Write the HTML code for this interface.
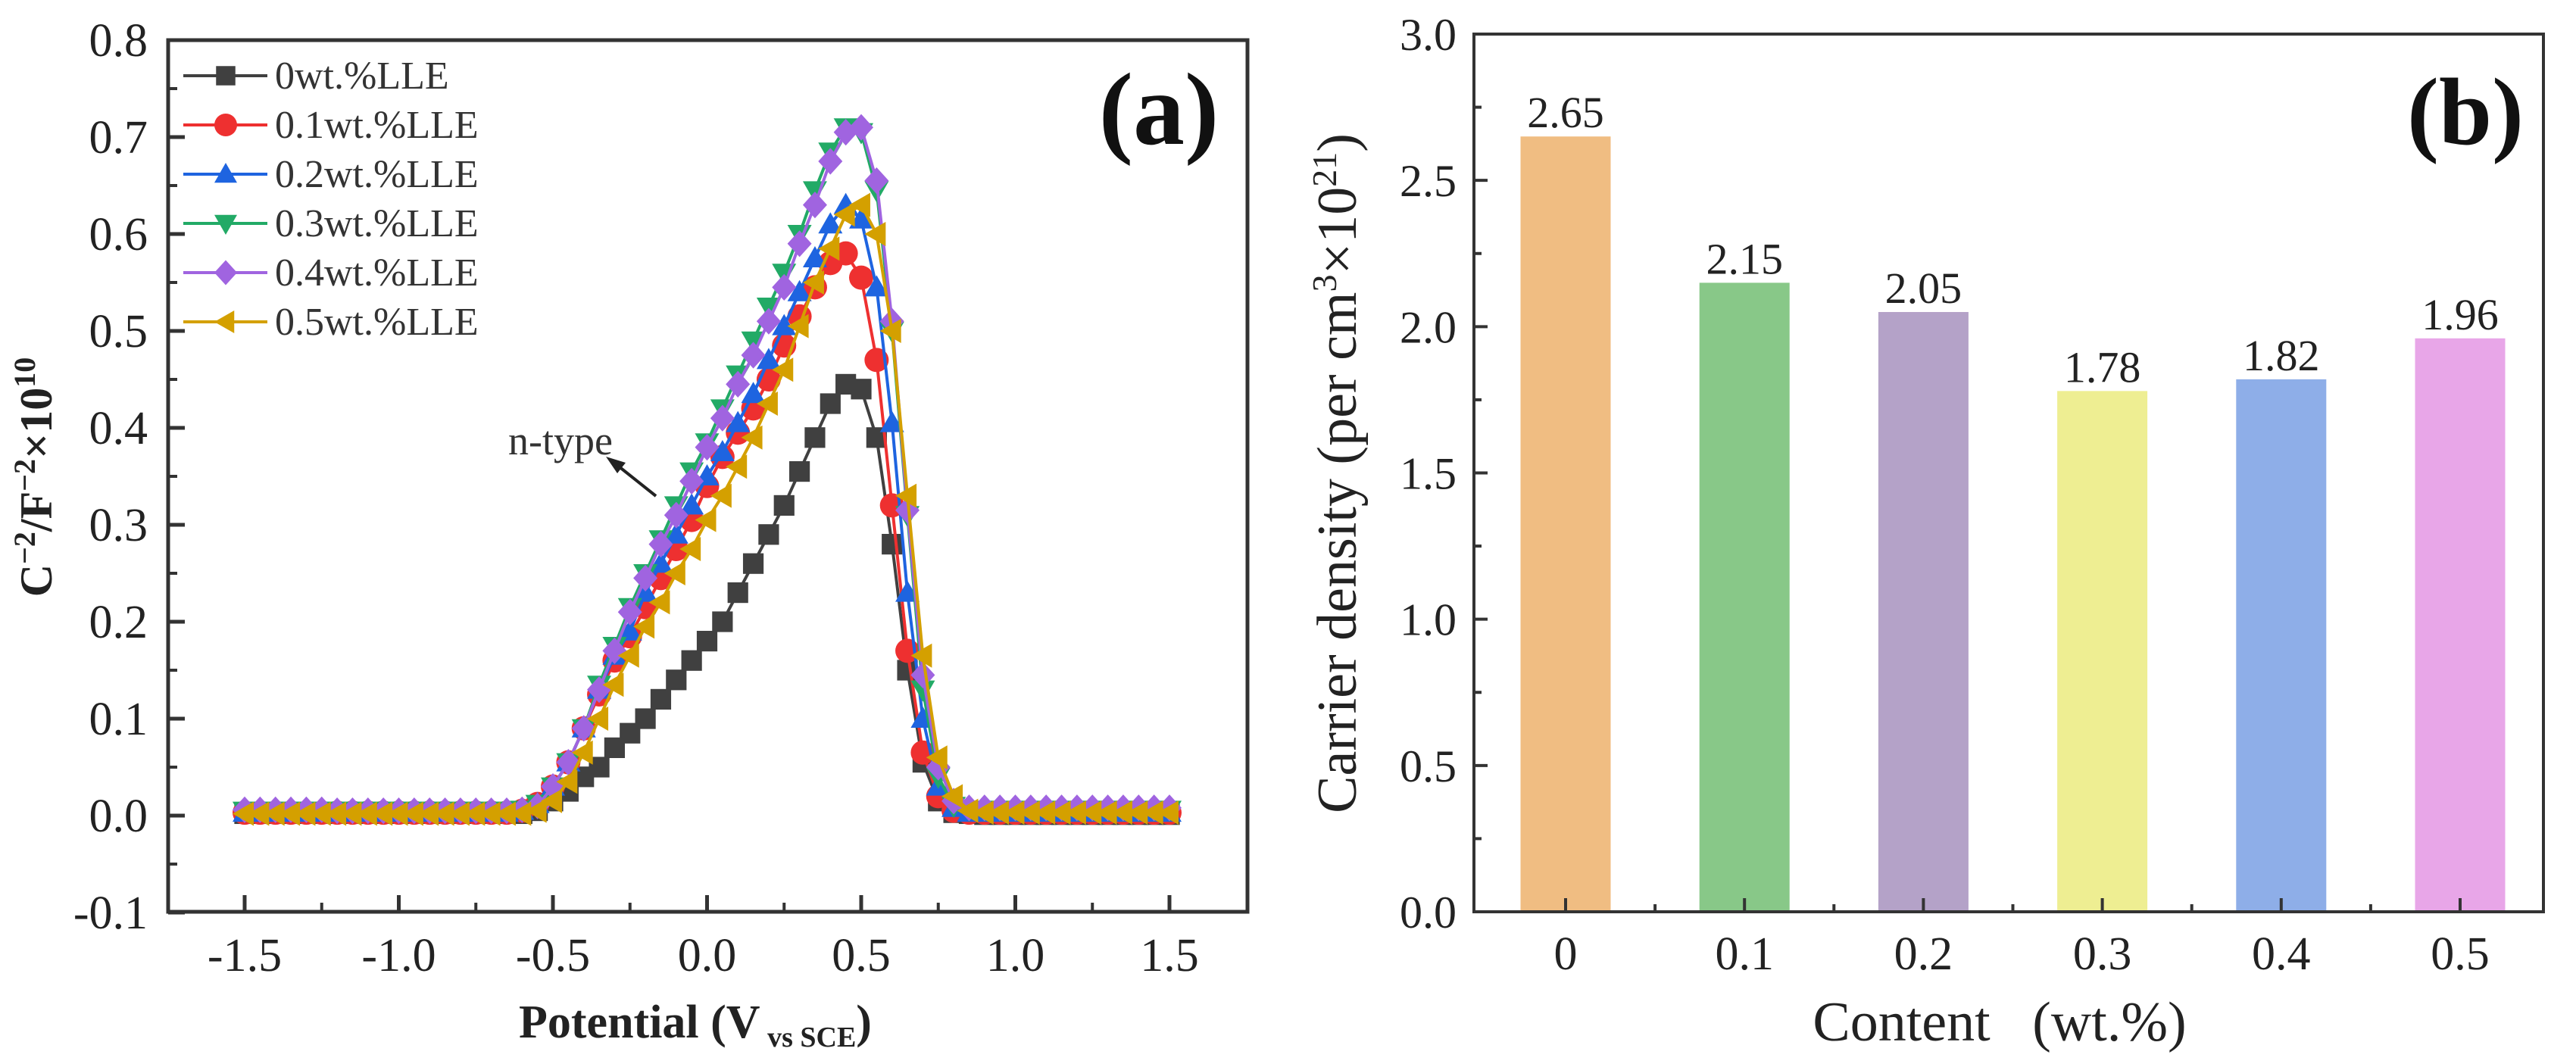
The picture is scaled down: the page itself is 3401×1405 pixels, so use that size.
<!DOCTYPE html>
<html><head><meta charset="utf-8"><style>
html,body{margin:0;padding:0;background:#fff;}
svg{display:block;font-family:"Liberation Serif",serif;}
</style></head><body>
<svg id="chart" width="3401" height="1405" viewBox="0 0 3401 1405" xmlns="http://www.w3.org/2000/svg">
<rect width="3401" height="1405" fill="#fff"/>
<g id="pa"></g>
<g id="pb"></g>
</svg>
<script>
const potentials = [-1.5,-1.45,-1.4,-1.35,-1.3,-1.25,-1.2,-1.15,-1.1,-1.05,-1.0,-0.95,-0.9,-0.85,-0.8,-0.75,-0.7,-0.65,-0.6,-0.55,-0.5,-0.45,-0.4,-0.35,-0.3,-0.25,-0.2,-0.15,-0.1,-0.05,0,0.05,0.1,0.15,0.2,0.25,0.3,0.35,0.4,0.45,0.5,0.55,0.6,0.65,0.7,0.75,0.8,0.85,0.9,0.95,1.0,1.05,1.1,1.15,1.2,1.25,1.3,1.35,1.4,1.45,1.5];
const s0 = [0.002,0.002,0.002,0.002,0.002,0.002,0.002,0.002,0.002,0.002,0.002,0.002,0.002,0.002,0.002,0.002,0.002,0.002,0.002,0.005,0.015,0.025,0.04,0.05,0.07,0.085,0.1,0.12,0.14,0.16,0.18,0.2,0.23,0.26,0.29,0.32,0.355,0.39,0.425,0.445,0.44,0.39,0.28,0.15,0.055,0.015,0.003,0.002,0.001,0.001,0.001,0.001,0.001,0.001,0.001,0.001,0.001,0.001,0.001,0.001,0.001];
const s1 = [0.003,0.003,0.003,0.003,0.003,0.003,0.003,0.003,0.003,0.003,0.003,0.003,0.003,0.003,0.003,0.003,0.003,0.003,0.005,0.012,0.03,0.055,0.09,0.125,0.16,0.185,0.215,0.245,0.275,0.305,0.34,0.37,0.395,0.42,0.45,0.485,0.515,0.545,0.57,0.58,0.555,0.47,0.32,0.17,0.065,0.02,0.005,0.003,0.003,0.003,0.003,0.003,0.003,0.003,0.003,0.003,0.003,0.003,0.003,0.003,0.003];
const s2 = [0.003,0.003,0.003,0.003,0.003,0.003,0.003,0.003,0.003,0.003,0.003,0.003,0.003,0.003,0.003,0.003,0.003,0.003,0.005,0.012,0.03,0.055,0.09,0.13,0.165,0.19,0.23,0.26,0.29,0.32,0.35,0.375,0.405,0.435,0.47,0.505,0.54,0.575,0.61,0.63,0.615,0.545,0.405,0.23,0.1,0.03,0.008,0.003,0.003,0.003,0.003,0.003,0.003,0.003,0.003,0.003,0.003,0.003,0.003,0.003,0.003];
const s3 = [0.005,0.005,0.005,0.005,0.005,0.005,0.005,0.005,0.005,0.005,0.005,0.005,0.005,0.005,0.005,0.005,0.005,0.005,0.006,0.012,0.03,0.055,0.09,0.135,0.175,0.215,0.25,0.285,0.32,0.355,0.385,0.42,0.455,0.49,0.525,0.56,0.6,0.645,0.685,0.71,0.705,0.645,0.5,0.31,0.13,0.04,0.01,0.006,0.006,0.006,0.006,0.006,0.006,0.006,0.006,0.006,0.006,0.006,0.006,0.006,0.006];
const s4 = [0.006,0.006,0.006,0.006,0.006,0.006,0.005,0.005,0.005,0.005,0.005,0.005,0.005,0.005,0.005,0.005,0.005,0.005,0.006,0.01,0.03,0.055,0.09,0.13,0.17,0.21,0.245,0.28,0.31,0.345,0.38,0.41,0.445,0.475,0.51,0.545,0.59,0.63,0.675,0.705,0.71,0.655,0.51,0.315,0.145,0.05,0.015,0.008,0.008,0.008,0.008,0.008,0.008,0.008,0.008,0.008,0.008,0.008,0.008,0.008,0.008];
const s5 = [0.002,0.002,0.002,0.002,0.002,0.002,0.002,0.002,0.002,0.002,0.002,0.002,0.002,0.002,0.002,0.002,0.002,0.002,0.002,0.005,0.015,0.035,0.065,0.1,0.135,0.165,0.195,0.22,0.25,0.275,0.305,0.33,0.36,0.39,0.425,0.46,0.505,0.55,0.585,0.62,0.63,0.6,0.5,0.33,0.165,0.06,0.02,0.005,0.003,0.003,0.003,0.003,0.003,0.003,0.003,0.003,0.003,0.003,0.003,0.003,0.003];
const seriesNames = ["0wt.%LLE","0.1wt.%LLE","0.2wt.%LLE","0.3wt.%LLE","0.4wt.%LLE","0.5wt.%LLE"];
const seriesColors = ["#404040","#ee3030","#1e64e0","#22aa66","#a064e0","#d4a000"];
const seriesMarkers = ["square","circle","triangle","tridown","diamond","triLeft"];
const xTicksA = [-1.5,-1.0,-0.5,0.0,0.5,1.0,1.5];
const yTicksA = [-0.1,0.0,0.1,0.2,0.3,0.4,0.5,0.6,0.7,0.8];

const categories = ["0","0.1","0.2","0.3","0.4","0.5"];
const barValues = [2.65,2.15,2.05,1.78,1.82,1.96];
const barColors = ["#f0bd82","#88c888","#b4a2c8","#eeee92","#8eaee8","#e8a6e8"];
const yTicksB = [0.0,0.5,1.0,1.5,2.0,2.5,3.0];

const NS="http://www.w3.org/2000/svg";
function mk(parent,tag,attrs,text){const e=document.createElementNS(NS,tag);for(const k in attrs)e.setAttribute(k,attrs[k]);if(text!==undefined)e.textContent=text;parent.appendChild(e);return e;}

// ---- Panel A ----
const pa=document.getElementById('pa');
const AL=222,AR=1647,AT=53,AB=1204;
const xA=v=>933.5+v*407;
const yA=v=>1077-v*1280;
let e;
e=mk(pa,'rect',{x:AL,y:AT,width:AR-AL,height:AB-AT,fill:'none',stroke:'#333','stroke-width':5});


xTicksA.forEach(t=>{
  e=mk(pa,'line',{x1:xA(t),x2:xA(t),y1:AB,y2:AB-22,stroke:'#333','stroke-width':5});
  
  
  if(t<1.5){e=mk(pa,'line',{x1:xA(t+0.25),x2:xA(t+0.25),y1:AB,y2:AB-12,stroke:'#333','stroke-width':4});
  
  }
  e=mk(pa,'text',{x:xA(t),y:1282,'text-anchor':'middle','font-size':62,fill:'#222'},t.toFixed(1));
  
  
});
yTicksA.forEach(t=>{
  e=mk(pa,'line',{x1:AL,x2:AL+22,y1:yA(t),y2:yA(t),stroke:'#333','stroke-width':5});
  
  
  if(t<0.8){e=mk(pa,'line',{x1:AL,x2:AL+12,y1:yA(t+0.05),y2:yA(t+0.05),stroke:'#333','stroke-width':4});
  
  }
  e=mk(pa,'text',{x:195,y:yA(t)+21,'text-anchor':'end','font-size':62,fill:'#222'},t.toFixed(1));
  
  
});
function marker(g,type,cx,cy,r,color){
  let m;
  if(type==='square') m=mk(g,'rect',{x:cx-r*0.85,y:cy-r*0.85,width:r*1.7,height:r*1.7,fill:color});
  else if(type==='circle') m=mk(g,'circle',{cx:cx,cy:cy,r:r,fill:color});
  else if(type==='triangle') m=mk(g,'polygon',{points:`${cx},${cy-r} ${cx-r},${cy+r*0.75} ${cx+r},${cy+r*0.75}`,fill:color});
  else if(type==='tridown') m=mk(g,'polygon',{points:`${cx},${cy+r} ${cx-r},${cy-r*0.75} ${cx+r},${cy-r*0.75}`,fill:color});
  else if(type==='diamond') m=mk(g,'polygon',{points:`${cx},${cy-r*1.1} ${cx+r},${cy} ${cx},${cy+r*1.1} ${cx-r},${cy}`,fill:color});
  else m=mk(g,'polygon',{points:`${cx-r},${cy} ${cx+r*0.75},${cy-r} ${cx+r*0.75},${cy+r}`,fill:color});
  return m;
}
const allSeries=[s0,s1,s2,s3,s4,s5];
allSeries.forEach((s,i)=>{
  const g=mk(pa,'g',{});
  
  
  const pts=potentials.map((p,j)=>xA(p)+','+yA(s[j])).join(' ');
  e=mk(g,'polyline',{points:pts,fill:'none',stroke:seriesColors[i],'stroke-width':4});
  
  
  potentials.forEach((p,j)=>{
    e=marker(g,seriesMarkers[i],xA(p),yA(s[j]),16,seriesColors[i]);
    
    
  });
});
// legend
seriesNames.forEach((n,i)=>{
  const y=100+i*65;
  const g=mk(pa,'g',{});
  
  
  mk(g,'line',{x1:242,x2:353,y1:y,y2:y,stroke:seriesColors[i],'stroke-width':4});
  marker(g,seriesMarkers[i],298,y,15,seriesColors[i]);
  mk(g,'text',{x:363,y:y+17,'font-size':52,fill:'#333'},n);
});
e=mk(pa,'text',{x:1530,y:190,'text-anchor':'middle','font-size':136,'font-weight':'bold',fill:'#111'},'(a)');


e=mk(pa,'text',{x:740,y:600,'text-anchor':'middle','font-size':54,fill:'#333'},'n-type');


e=mk(pa,'line',{x1:866,y1:655,x2:812,y2:612,stroke:'#222','stroke-width':4});


e=mk(pa,'polygon',{points:'800,603 826,611 815,625',fill:'#222'});


e=mk(pa,'text',{x:918,y:1370,'text-anchor':'middle','font-size':62,'font-weight':'bold',fill:'#222'});


e.innerHTML='Potential (V<tspan font-size="38" dy="12"> vs SCE</tspan><tspan dy="-12">)</tspan>';
e=mk(pa,'text',{transform:'translate(68,630) rotate(-90)','text-anchor':'middle','font-size':60,'font-weight':'bold',fill:'#222'});


e.innerHTML='C<tspan font-size="40" dy="-22">−2</tspan><tspan dy="22">/F</tspan><tspan font-size="40" dy="-22">−2</tspan><tspan dy="22">×10</tspan><tspan font-size="40" dy="-22">10</tspan>';

// ---- Panel B ----
const pb=document.getElementById('pb');
const BL=1946,BR=3358,BT=45,BB=1204;
const xB=i=>2067+i*236.2;
const yB=v=>BB-v*(BB-BT)/3;
const bw=119;
barValues.forEach((v,i)=>{
  e=mk(pb,'rect',{x:xB(i)-bw/2,y:yB(v),width:bw,height:BB-yB(v),fill:barColors[i]});
  
  
  e=mk(pb,'text',{x:xB(i),y:yB(v)-12,'text-anchor':'middle','font-size':58,fill:'#222'},v.toFixed(2));
  
  
  e=mk(pb,'text',{x:xB(i),y:1280,'text-anchor':'middle','font-size':62,fill:'#222'},categories[i]);
  
  
  e=mk(pb,'line',{x1:xB(i),x2:xB(i),y1:BB,y2:BB-18,stroke:'#333','stroke-width':4});
  
  
  if(i<5){e=mk(pb,'line',{x1:xB(i+0.5),x2:xB(i+0.5),y1:BB,y2:BB-10,stroke:'#333','stroke-width':4});
  
  }
});
e=mk(pb,'rect',{x:BL,y:BT,width:BR-BL,height:BB-BT,fill:'none',stroke:'#333','stroke-width':4});


yTicksB.forEach(t=>{
  e=mk(pb,'line',{x1:BL,x2:BL+18,y1:yB(t),y2:yB(t),stroke:'#333','stroke-width':4});
  
  
  if(t<3){e=mk(pb,'line',{x1:BL,x2:BL+10,y1:yB(t+0.25),y2:yB(t+0.25),stroke:'#333','stroke-width':4});
  
  }
  e=mk(pb,'text',{x:1923,y:yB(t)+21,'text-anchor':'end','font-size':60,fill:'#222'},t.toFixed(1));
  
  
});
e=mk(pb,'text',{x:3255,y:190,'text-anchor':'middle','font-size':126,'font-weight':'bold',fill:'#111'},'(b)');


e=mk(pb,'text',{x:2640,y:1374,'text-anchor':'middle','font-size':74,fill:'#222'},'Content\u00a0\u00a0\u00a0(wt.%)');


e=mk(pb,'text',{transform:'translate(1790,625) rotate(-90)','text-anchor':'middle','font-size':74,fill:'#222'});


e.innerHTML='Carrier density (per cm<tspan font-size="46" dy="-26">3</tspan><tspan dy="26">×10</tspan><tspan font-size="46" dy="-26">21</tspan><tspan dy="26">)</tspan>';
</script>
</body></html>
